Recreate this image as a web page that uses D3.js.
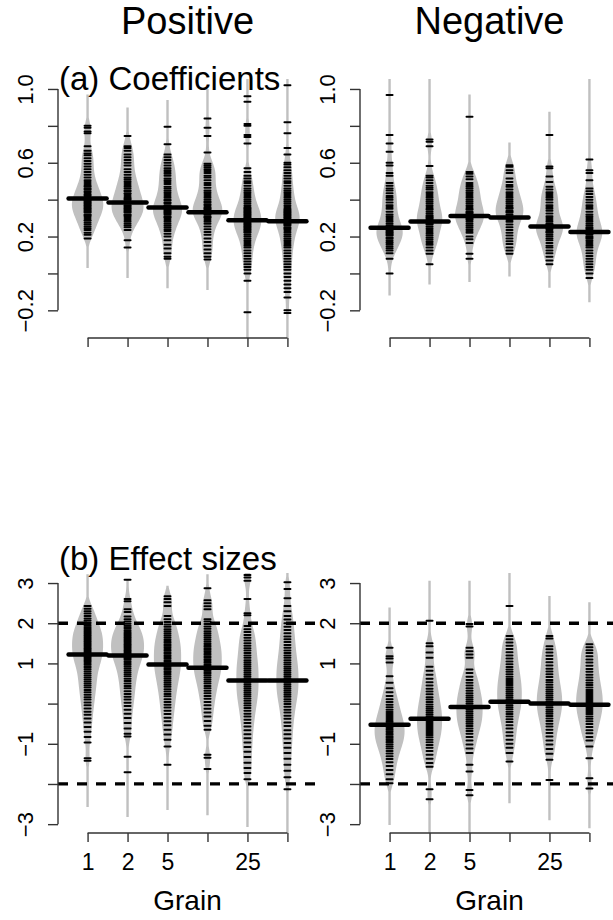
<!DOCTYPE html>
<html>
<head>
<meta charset="utf-8">
<script src="https://cdn.jsdelivr.net/npm/d3@7"></script>
<style>
  body { margin: 0; background: #fff; }
  text { font-family: "Liberation Sans", Arial, sans-serif; fill: #000; }
</style>
</head>
<body>
<svg id="chart" width="613" height="920"></svg>
<script>
// grain tick labels (two grains are left unlabelled in the original)
const grainLabels = ["1", "2", "5", "", "25", ""];

// ---- (a) Coefficients, positive ----
const posCoef = [
  [0.80,0.79,0.77,0.76,0.69,0.665,0.65,0.64,0.625,0.61,0.595,0.58,0.565,0.55,0.535,0.52,0.505,0.495,0.485,0.475,0.47,0.46,0.455,0.445,0.44,0.43,0.425,0.42,0.41,0.405,0.40,0.395,0.39,0.385,0.38,0.375,0.37,0.365,0.36,0.355,0.35,0.345,0.34,0.335,0.33,0.32,0.315,0.31,0.30,0.29,0.285,0.275,0.265,0.255,0.245,0.235,0.22,0.21,0.19],
  [0.745,0.69,0.68,0.665,0.645,0.63,0.615,0.60,0.585,0.565,0.55,0.535,0.52,0.51,0.50,0.49,0.48,0.47,0.46,0.45,0.445,0.435,0.43,0.42,0.41,0.405,0.40,0.39,0.385,0.38,0.37,0.365,0.36,0.355,0.35,0.345,0.34,0.335,0.33,0.32,0.315,0.31,0.30,0.29,0.28,0.27,0.26,0.25,0.235,0.18,0.14],
  [0.795,0.70,0.645,0.63,0.615,0.60,0.585,0.57,0.56,0.55,0.54,0.53,0.515,0.505,0.495,0.485,0.47,0.46,0.45,0.44,0.43,0.42,0.41,0.40,0.395,0.385,0.38,0.37,0.365,0.36,0.355,0.35,0.345,0.34,0.335,0.33,0.325,0.32,0.31,0.305,0.30,0.29,0.28,0.27,0.26,0.25,0.24,0.23,0.215,0.20,0.18,0.155,0.135,0.11,0.09,0.08],
  [0.84,0.79,0.745,0.655,0.595,0.585,0.575,0.565,0.555,0.545,0.53,0.52,0.505,0.49,0.48,0.465,0.45,0.44,0.43,0.42,0.41,0.40,0.39,0.385,0.375,0.37,0.36,0.355,0.35,0.345,0.34,0.335,0.33,0.325,0.32,0.31,0.305,0.30,0.29,0.28,0.27,0.255,0.24,0.225,0.21,0.19,0.17,0.15,0.13,0.11,0.09,0.075],
  [0.96,0.93,0.81,0.80,0.75,0.74,0.705,0.57,0.55,0.53,0.515,0.50,0.49,0.475,0.46,0.45,0.44,0.43,0.42,0.41,0.40,0.39,0.38,0.37,0.36,0.355,0.35,0.345,0.34,0.335,0.33,0.325,0.32,0.315,0.31,0.305,0.30,0.295,0.29,0.285,0.28,0.275,0.27,0.265,0.26,0.255,0.25,0.245,0.24,0.235,0.23,0.225,0.22,0.21,0.20,0.19,0.18,0.17,0.16,0.15,0.14,0.125,0.11,0.095,0.08,0.065,0.05,0.035,0.02,0.0,-0.04,-0.21],
  [1.02,0.82,0.76,0.68,0.645,0.60,0.59,0.575,0.56,0.545,0.53,0.515,0.50,0.49,0.475,0.46,0.45,0.44,0.43,0.42,0.41,0.40,0.39,0.38,0.37,0.36,0.35,0.345,0.34,0.335,0.33,0.325,0.32,0.315,0.31,0.305,0.30,0.295,0.29,0.285,0.28,0.275,0.27,0.265,0.26,0.25,0.245,0.24,0.23,0.22,0.21,0.20,0.19,0.18,0.17,0.16,0.15,0.14,0.125,0.11,0.095,0.08,0.065,0.05,0.035,0.02,0.0,-0.02,-0.04,-0.06,-0.08,-0.10,-0.13,-0.20,-0.215]
];
const posCoefMean = [0.406, 0.384, 0.357, 0.332, 0.288, 0.283];
const posCoefTop = [0.97, 0.90, 0.94, 1.00, 1.06, 1.06];
const posCoefBot = [0.03, -0.025, -0.08, -0.09, -0.36, -0.36];

// ---- (a) Coefficients, negative ----
const negCoef = [
  [0.967,0.75,0.705,0.66,0.60,0.585,0.545,0.53,0.49,0.475,0.46,0.45,0.435,0.42,0.41,0.40,0.385,0.37,0.36,0.35,0.335,0.32,0.31,0.30,0.29,0.28,0.27,0.26,0.25,0.245,0.24,0.235,0.23,0.225,0.22,0.215,0.21,0.205,0.195,0.19,0.18,0.17,0.165,0.155,0.145,0.135,0.125,0.11,0.08,0.0],
  [0.726,0.714,0.69,0.583,0.53,0.52,0.505,0.49,0.475,0.465,0.455,0.44,0.43,0.42,0.41,0.40,0.39,0.38,0.37,0.36,0.35,0.345,0.335,0.325,0.315,0.31,0.305,0.30,0.295,0.29,0.28,0.275,0.27,0.265,0.255,0.245,0.235,0.225,0.215,0.205,0.195,0.185,0.175,0.165,0.155,0.14,0.125,0.107,0.05],
  [0.85,0.55,0.54,0.525,0.51,0.49,0.48,0.47,0.46,0.45,0.44,0.43,0.42,0.41,0.40,0.39,0.38,0.37,0.36,0.35,0.345,0.335,0.33,0.325,0.315,0.31,0.305,0.30,0.295,0.29,0.28,0.27,0.26,0.25,0.24,0.23,0.22,0.20,0.185,0.165,0.107,0.08],
  [0.587,0.578,0.56,0.545,0.515,0.495,0.48,0.47,0.455,0.44,0.43,0.42,0.41,0.40,0.39,0.38,0.37,0.36,0.355,0.35,0.34,0.335,0.33,0.32,0.31,0.305,0.30,0.29,0.28,0.265,0.25,0.235,0.22,0.205,0.19,0.175,0.16,0.14,0.125,0.107],
  [0.75,0.58,0.57,0.525,0.495,0.47,0.455,0.44,0.43,0.42,0.41,0.40,0.385,0.37,0.36,0.35,0.34,0.325,0.31,0.30,0.29,0.28,0.27,0.265,0.26,0.255,0.25,0.245,0.24,0.23,0.225,0.22,0.21,0.20,0.19,0.18,0.165,0.15,0.14,0.125,0.11,0.09,0.07,0.05],
  [0.618,0.56,0.545,0.505,0.46,0.445,0.43,0.415,0.40,0.385,0.37,0.36,0.35,0.335,0.32,0.31,0.30,0.29,0.28,0.27,0.26,0.25,0.245,0.24,0.23,0.225,0.22,0.215,0.21,0.20,0.195,0.19,0.18,0.17,0.16,0.15,0.14,0.125,0.11,0.095,0.08,0.065,0.05,0.035,0.02,0.0,-0.025]
];
const negCoefMean = [0.248, 0.281, 0.312, 0.303, 0.255, 0.225];
const negCoefTop = [1.06, 1.06, 0.97, 0.71, 0.877, 1.06];
const negCoefBot = [-0.12, -0.06, -0.047, -0.016, -0.078, -0.156];

// ---- (b) Effect sizes, positive ----
const posEff = [
  [2.43,2.36,2.3,2.24,2.18,2.12,2.07,2.02,1.98,1.94,1.9,1.86,1.83,1.8,1.77,1.74,1.71,1.68,1.65,1.62,1.59,1.56,1.53,1.5,1.47,1.44,1.41,1.38,1.35,1.32,1.29,1.26,1.23,1.2,1.17,1.14,1.11,1.08,1.05,1.01,0.97,0.93,0.89,0.85,0.8,0.75,0.7,0.65,0.6,0.55,0.5,0.45,0.4,0.34,0.28,0.22,0.16,0.1,0.03,-0.04,-0.12,-0.2,-0.28,-0.37,-0.47,-0.58,-0.7,-0.83,-0.97,-1.36,-1.42],
  [3.08,2.6,2.55,2.35,2.28,2.17,2.1,2.04,1.99,1.94,1.9,1.86,1.82,1.78,1.75,1.72,1.69,1.66,1.63,1.6,1.57,1.54,1.51,1.48,1.45,1.42,1.39,1.36,1.33,1.3,1.27,1.24,1.21,1.18,1.15,1.12,1.09,1.05,1.01,0.97,0.93,0.88,0.83,0.78,0.73,0.68,0.62,0.56,0.5,0.44,0.38,0.31,0.24,0.17,0.1,0.02,-0.06,-0.15,-0.25,-0.36,-0.48,-0.62,-0.75,-0.82,-1.32,-1.71],
  [2.67,2.6,2.52,2.43,2.18,2.1,2.03,1.97,1.91,1.85,1.8,1.75,1.7,1.65,1.6,1.56,1.52,1.48,1.44,1.4,1.36,1.32,1.28,1.24,1.2,1.16,1.12,1.08,1.04,1.0,0.96,0.92,0.88,0.84,0.8,0.76,0.72,0.67,0.62,0.57,0.52,0.47,0.42,0.36,0.3,0.24,0.18,0.11,0.04,-0.03,-0.1,-0.18,-0.26,-0.35,-0.44,-0.54,-0.65,-0.77,-0.9,-1.07,-1.52],
  [2.87,2.57,2.5,2.42,2.35,2.1,2.04,1.98,1.92,1.86,1.8,1.75,1.7,1.65,1.6,1.55,1.5,1.46,1.42,1.38,1.34,1.3,1.26,1.22,1.18,1.14,1.1,1.06,1.02,0.98,0.94,0.9,0.86,0.82,0.78,0.74,0.7,0.65,0.6,0.55,0.5,0.44,0.38,0.32,0.26,0.19,0.12,0.04,-0.04,-0.13,-0.22,-0.32,-0.43,-0.55,-0.65,-1.27,-1.35,-1.63],
  [3.2,3.14,3.06,2.6,2.25,2.2,1.93,1.85,1.78,1.71,1.64,1.57,1.5,1.44,1.38,1.32,1.26,1.2,1.14,1.08,1.03,0.98,0.93,0.88,0.83,0.78,0.73,0.68,0.63,0.58,0.53,0.48,0.43,0.38,0.33,0.28,0.23,0.18,0.13,0.07,0.01,-0.05,-0.11,-0.18,-0.25,-0.32,-0.4,-0.48,-0.57,-0.66,-0.76,-0.86,-0.97,-1.08,-1.2,-1.33,-1.47,-1.6,-1.73,-1.88],
  [3.02,2.85,2.62,2.43,2.3,2.18,2.09,2.0,1.91,1.83,1.75,1.67,1.6,1.53,1.46,1.39,1.32,1.26,1.2,1.14,1.08,1.02,0.97,0.92,0.87,0.82,0.77,0.72,0.67,0.62,0.57,0.52,0.47,0.42,0.37,0.32,0.27,0.22,0.17,0.11,0.05,-0.01,-0.08,-0.15,-0.22,-0.3,-0.38,-0.47,-0.56,-0.66,-0.76,-0.87,-0.98,-1.1,-1.23,-1.37,-1.52,-1.67,-1.83,-2.13]
];
const posEffMean = [1.225, 1.2, 0.975, 0.89, 0.575, 0.575];
const posEffTop = [3.22, 3.1, 2.93, 3.22, 3.3, 3.3];
const posEffBot = [-2.57, -2.82, -2.65, -2.78, -3.07, -3.3];

// ---- (b) Effect sizes, negative ----
const negEff = [
  [1.39,1.18,1.12,1.02,0.68,0.52,0.38,0.28,0.19,0.11,0.04,-0.03,-0.09,-0.15,-0.21,-0.26,-0.31,-0.36,-0.41,-0.45,-0.49,-0.53,-0.57,-0.61,-0.65,-0.69,-0.73,-0.77,-0.81,-0.85,-0.89,-0.93,-0.97,-1.02,-1.07,-1.12,-1.18,-1.24,-1.31,-1.38,-1.46,-1.55,-1.65,-1.76,-1.88,-1.98],
  [2.06,1.5,1.43,1.27,1.14,0.92,0.82,0.72,0.62,0.53,0.45,0.37,0.3,0.23,0.16,0.1,0.04,-0.02,-0.08,-0.13,-0.18,-0.23,-0.28,-0.33,-0.38,-0.43,-0.48,-0.53,-0.58,-0.63,-0.68,-0.73,-0.78,-0.84,-0.9,-0.96,-1.03,-1.1,-1.18,-1.27,-1.37,-1.48,-1.57,-2.13,-2.38],
  [1.98,1.92,1.39,1.3,1.22,1.14,0.85,0.76,0.67,0.59,0.52,0.45,0.38,0.32,0.26,0.2,0.15,0.1,0.05,0.0,-0.05,-0.1,-0.15,-0.2,-0.25,-0.3,-0.35,-0.4,-0.45,-0.5,-0.56,-0.62,-0.68,-0.75,-0.83,-0.92,-1.02,-1.12,-1.23,-1.52,-1.69,-2.15,-2.28],
  [2.43,1.68,1.6,1.52,1.44,1.36,1.28,1.2,1.12,1.05,0.98,0.91,0.85,0.79,0.73,0.67,0.61,0.56,0.51,0.46,0.41,0.36,0.31,0.26,0.21,0.16,0.11,0.06,0.01,-0.04,-0.09,-0.14,-0.2,-0.26,-0.32,-0.39,-0.46,-0.54,-0.62,-0.71,-0.8,-0.9,-1.0,-1.1,-1.23,-1.44],
  [1.68,1.62,1.43,1.35,1.27,1.19,1.11,1.03,0.95,0.87,0.8,0.73,0.66,0.59,0.53,0.47,0.41,0.35,0.3,0.25,0.2,0.15,0.1,0.05,0.0,-0.05,-0.1,-0.15,-0.2,-0.25,-0.31,-0.37,-0.43,-0.5,-0.57,-0.65,-0.73,-0.82,-0.92,-1.02,-1.13,-1.25,-1.4,-1.9],
  [1.48,1.4,1.33,1.26,1.18,1.1,1.02,0.94,0.86,0.79,0.72,0.65,0.58,0.52,0.46,0.4,0.34,0.29,0.24,0.19,0.14,0.09,0.04,-0.01,-0.06,-0.11,-0.16,-0.21,-0.26,-0.32,-0.38,-0.44,-0.51,-0.58,-0.66,-0.74,-0.83,-0.92,-1.07,-1.36,-1.86,-2.11]
];
const negEffMean = [-0.525, -0.38, -0.085, 0.045, 0.0, -0.03];
const negEffTop = [2.39, 3.06, 3.06, 3.3, 2.68, 2.52];
const negEffBot = [-3.02, -3.3, -3.3, -2.48, -2.9, -3.1];

const coefTicks = [1.0, 0.8, 0.6, 0.4, 0.2, 0.0, -0.2];
const coefTickLabels = ["1.0", "", "0.6", "", "0.2", "", "\u22120.2"];
const effTicks = [3, 2, 1, 0, -1, -2, -3];
const effTickLabels = ["3", "2", "1", "", "\u22121", "", "\u22123"];
const effRefLines = [2, -2];

const svg = d3.select("#chart");
const W = 259; // plot region width

// gaussian kernel density
const kde = (vals, bw, t) =>
  d3.mean(vals, v => Math.exp(-0.5 * ((t - v) / bw) ** 2)) / (bw * Math.sqrt(2 * Math.PI));

function beanPanel(p) {
  const x = d3.scaleLinear().domain([0.26, 6.74]).range([p.left, p.left + W]);
  const y = d3.scaleLinear().domain(p.dom).range([p.bottom, p.top]);

  svg.append("clipPath").attr("id", p.id)
    .append("rect")
    .attr("x", p.left).attr("y", p.top)
    .attr("width", W).attr("height", p.bottom - p.top);

  const g = svg.append("g");

  // density outlines
  const dens = p.vals.map((vals, i) =>
    d3.range(0, 241).map(k => {
      const t = p.lo[i] + (p.hi[i] - p.lo[i]) * k / 240;
      return [t, kde(vals, p.bw, t)];
    }));
  const dmax = d3.max(dens, d => d3.max(d, e => e[1]));
  const w = d3.scaleLinear().domain([0, dmax]).range([0, p.half]);

  const beans = g.append("g").attr("clip-path", `url(#${p.id})`);
  dens.forEach((d, i) => {
    const cx = x(i + 1);
    beans.append("path")
      .datum(d)
      .attr("fill", "#c0c0c0")
      .attr("d", d3.area()
        .y(e => y(e[0]))
        .x0(e => cx - Math.max(w(e[1]), 1.2))
        .x1(e => cx + Math.max(w(e[1]), 1.2)));
  });

  // one short line per observation
  p.vals.forEach((vals, i) => {
    const cx = x(i + 1);
    beans.append("g")
      .selectAll("line")
      .data(vals)
      .enter()
      .append("line")
        .attr("x1", cx - 3).attr("x2", cx + 3)
        .attr("y1", d => y(d)).attr("y2", d => y(d))
        .attr("stroke", "#000")
        .attr("stroke-width", 2)
        .attr("stroke-linecap", "round");
  });

  // bean means
  g.append("g")
    .selectAll("line")
    .data(p.means)
    .enter()
    .append("line")
      .attr("x1", (d, i) => x(i + 1) - 19)
      .attr("x2", (d, i) => x(i + 1) + 19)
      .attr("y1", d => y(d)).attr("y2", d => y(d))
      .attr("stroke", "#000")
      .attr("stroke-width", 4.5)
      .attr("stroke-linecap", "round");

  // reference lines
  g.append("g").attr("clip-path", `url(#${p.id})`)
    .selectAll("line")
    .data(p.ref || [])
    .enter()
    .append("line")
      .attr("x1", p.left).attr("x2", p.left + W)
      .attr("y1", d => y(d)).attr("y2", d => y(d))
      .attr("stroke", "#000")
      .attr("stroke-width", 3.3)
      .attr("stroke-dasharray", "10,9");

  // y axis
  const ya = g.append("g")
    .attr("transform", `translate(${p.left},0)`)
    .call(d3.axisLeft(y).tickValues(p.ticks)
      .tickFormat((d, i) => p.tickLabels[i]).tickSize(10).tickSizeOuter(0));
  ya.select(".domain").remove();
  ya.append("line")
    .attr("y1", y(p.ticks[0])).attr("y2", y(p.ticks[p.ticks.length - 1]))
    .attr("stroke", "#333").attr("stroke-width", 1.4);
  ya.selectAll(".tick line").attr("stroke", "#333").attr("stroke-width", 1.4);
  ya.selectAll(".tick text")
    .attr("transform", "rotate(-90)")
    .attr("x", 0).attr("y", -25).attr("dy", 0)
    .style("text-anchor", "middle")
    .style("font-size", "22px")
    .style("font-family", "Liberation Sans, Arial, sans-serif")
    .attr("fill", "#000");

  // x axis
  const xa = g.append("g")
    .attr("transform", `translate(0,${p.bottom})`)
    .call(d3.axisBottom(x).tickValues([1, 2, 3, 4, 5, 6])
      .tickFormat(d => p.xLabels[d - 1]).tickSize(9).tickSizeOuter(0));
  xa.select(".domain").remove();
  xa.append("line")
    .attr("x1", x(1)).attr("x2", x(6))
    .attr("stroke", "#333").attr("stroke-width", 1.4);
  xa.selectAll(".tick line").attr("stroke", "#333").attr("stroke-width", 1.4);
  xa.selectAll(".tick text")
    .attr("y", 37).attr("dy", 0)
    .style("font-size", "23px")
    .style("font-family", "Liberation Sans, Arial, sans-serif")
    .attr("fill", "#000");

  if (p.title) {
    svg.append("text")
      .attr("x", p.left + 1).attr("y", p.titleY)
      .style("font-size", "33px")
      .text(p.title);
  }
  if (p.head) {
    svg.append("text")
      .attr("x", p.left + W / 2).attr("y", 34)
      .attr("text-anchor", "middle")
      .style("font-size", "38px")
      .text(p.head);
  }
  if (p.xTitle) {
    svg.append("text")
      .attr("x", p.left + W / 2).attr("y", 910)
      .attr("text-anchor", "middle")
      .style("font-size", "28px")
      .text(p.xTitle);
  }
}

const blank = ["", "", "", "", "", ""];
const topDom = [-0.35, 1.054];
const botDom = [-3.22, 3.25];

beanPanel({ id: "c1", left: 58, top: 79, bottom: 338, dom: topDom,
  vals: posCoef, means: posCoefMean, lo: posCoefBot, hi: posCoefTop,
  bw: 0.045, half: 16, ticks: coefTicks, tickLabels: coefTickLabels,
  xLabels: blank, title: "(a) Coefficients", titleY: 90, head: "Positive" });
beanPanel({ id: "c2", left: 360, top: 79, bottom: 338, dom: topDom,
  vals: negCoef, means: negCoefMean, lo: negCoefBot, hi: negCoefTop,
  bw: 0.045, half: 14.5, ticks: coefTicks, tickLabels: coefTickLabels,
  xLabels: blank, head: "Negative" });
beanPanel({ id: "c3", left: 58, top: 573, bottom: 833, dom: botDom,
  vals: posEff, means: posEffMean, lo: posEffBot, hi: posEffTop,
  bw: 0.2, half: 16.5, ticks: effTicks, tickLabels: effTickLabels, ref: effRefLines,
  xLabels: grainLabels, title: "(b) Effect sizes", titleY: 570, xTitle: "Grain" });
beanPanel({ id: "c4", left: 360, top: 573, bottom: 833, dom: botDom,
  vals: negEff, means: negEffMean, lo: negEffBot, hi: negEffTop,
  bw: 0.2, half: 15, ticks: effTicks, tickLabels: effTickLabels, ref: effRefLines,
  xLabels: grainLabels, xTitle: "Grain" });
</script>
</body>
</html>
